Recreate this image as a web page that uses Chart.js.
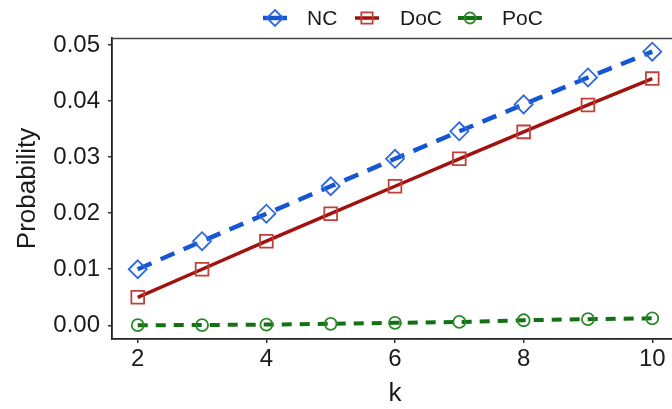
<!DOCTYPE html>
<html>
<head>
<meta charset="utf-8">
<script src="https://cdn.jsdelivr.net/npm/chart.js@4"></script>
<style>
  html, body { margin: 0; padding: 0; background: #fff; overflow: hidden; }
  #wrap { width: 672px; height: 409px; overflow: hidden; position: relative; }
  canvas { display: block; }
</style>
</head>
<body>
<div id="wrap"><canvas id="c" width="678" height="409"></canvas></div>
<script>
const kValues = [2, 3, 4, 5, 6, 7, 8, 9, 10];
const ncValues  = [0.0100, 0.0150, 0.0199, 0.0248, 0.0297, 0.0346, 0.0394, 0.0442, 0.0488];
const docValues = [0.0050, 0.0100, 0.0150, 0.0199, 0.0248, 0.0297, 0.0345, 0.0393, 0.0440];
const pocValues = [0.00002, 0.00005, 0.00013, 0.00027, 0.00045, 0.00060, 0.00090, 0.00110, 0.00125];
const xTicks = [2, 4, 6, 8, 10];
const yTicks = [0.00, 0.01, 0.02, 0.03, 0.04, 0.05];
const seriesNames = ['NC', 'DoC', 'PoC'];

const FONT = "'Liberation Sans', Arial, Helvetica, sans-serif";
const colors = {
  NC:  { line: '#1556d4', point: '#2f68df', style: 'rectRot', radius: 9, dash: [15, 10], width: 4.5 },
  DoC: { line: '#a1120f', point: '#c0413b', style: 'rect', radius: 9, dash: [], width: 3.5 },
  PoC: { line: '#137013', point: '#2a8a2a', style: 'circle', radius: 6, dash: [10, 8], width: 4 }
};

function toXY(vals) { return kValues.map((k, i) => ({ x: k, y: vals[i] })); }
const seriesData = [ncValues, docValues, pocValues];

const datasets = seriesNames.map((name, i) => ({
  label: name,
  data: toXY(seriesData[i]),
  borderColor: colors[name].line,
  borderWidth: colors[name].width,
  borderDash: colors[name].dash,
  pointStyle: colors[name].style,
  pointRadius: colors[name].radius,
  pointBorderColor: colors[name].point,
  pointBorderWidth: 1.8,
  pointBackgroundColor: 'rgba(0,0,0,0)',
  fill: false,
  tension: 0
}));

function drawMarker(ctx, style, x, y, r) {
  ctx.beginPath();
  if (style === 'circle') {
    ctx.arc(x, y, r, 0, Math.PI * 2);
  } else if (style === 'rect') {
    const s = r * Math.SQRT1_2;
    ctx.rect(x - s, y - s, 2 * s, 2 * s);
  } else if (style === 'rectRot') {
    ctx.moveTo(x, y - r); ctx.lineTo(x + r, y); ctx.lineTo(x, y + r); ctx.lineTo(x - r, y); ctx.closePath();
  }
  ctx.stroke();
}

const deco = {
  id: 'deco',
  afterDraw(chart) {
    const ctx = chart.ctx, a = chart.chartArea;
    ctx.save();
    ctx.strokeStyle = '#444';
    ctx.lineWidth = 1.5;
    ctx.beginPath(); ctx.moveTo(a.left, a.top + 0.5); ctx.lineTo(a.right, a.top + 0.5); ctx.stroke();
    const centers = [275, 367, 470];
    const textX = [307, 400, 502];
    const ly = 18;
    seriesNames.forEach((name, i) => {
      const c = colors[name];
      ctx.setLineDash([]);
      ctx.strokeStyle = c.line;
      ctx.lineWidth = c.width;
      ctx.beginPath(); ctx.moveTo(centers[i] - 12, ly); ctx.lineTo(centers[i] + 12, ly); ctx.stroke();
      ctx.strokeStyle = c.point;
      ctx.lineWidth = 1.8;
      drawMarker(ctx, c.style, centers[i], ly, name === 'PoC' ? 5.5 : 8);
      ctx.fillStyle = '#1a1a1a';
      ctx.font = '21px ' + FONT;
      ctx.textBaseline = 'middle';
      ctx.textAlign = 'left';
      ctx.fillText(name, textX[i], ly + 1);
    });
    ctx.restore();
  }
};

new Chart(document.getElementById('c'), {
  type: 'line',
  data: { datasets },
  plugins: [deco],
  options: {
    responsive: false,
    animation: false,
    layout: { autoPadding: false, padding: { top: 38, right: 0, left: 0, bottom: 0 } },
    plugins: { legend: { display: false }, tooltip: { enabled: false } },
    scales: {
      x: {
        type: 'linear',
        min: 1.6, max: 10.4,
        afterBuildTicks: s => { s.ticks = xTicks.map(v => ({ value: v })); },
        afterFit: s => { s.height = 70; s.paddingLeft = 0; s.paddingRight = 0; },
        ticks: { color: '#1a1a1a', font: { family: FONT, size: 24 }, padding: 2, maxRotation: 0 },
        grid: { drawOnChartArea: false, drawTicks: true, tickLength: 4, color: '#333', lineWidth: 1.5 },
        border: { display: true, color: '#222', width: 1.8 },
        title: { display: true, text: 'k', color: '#1a1a1a', font: { family: FONT, size: 26 }, padding: { top: 0, bottom: 0 } }
      },
      y: {
        type: 'linear',
        min: -0.00244, max: 0.05124,
        afterBuildTicks: s => { s.ticks = yTicks.map(v => ({ value: v })); },
        afterFit: s => { s.width = 112; s.paddingTop = 0; s.paddingBottom = 0; },
        ticks: { color: '#1a1a1a', font: { family: FONT, size: 24 }, padding: 8, callback: v => Number(v).toFixed(2) },
        grid: { drawOnChartArea: false, drawTicks: true, tickLength: 4, color: '#333', lineWidth: 1.5 },
        border: { display: true, color: '#222', width: 1.8 },
        title: { display: true, text: 'Probability', color: '#1a1a1a', font: { family: FONT, size: 26 }, padding: { top: 12, bottom: 0 } }
      }
    }
  }
});
</script>
</body>
</html>
